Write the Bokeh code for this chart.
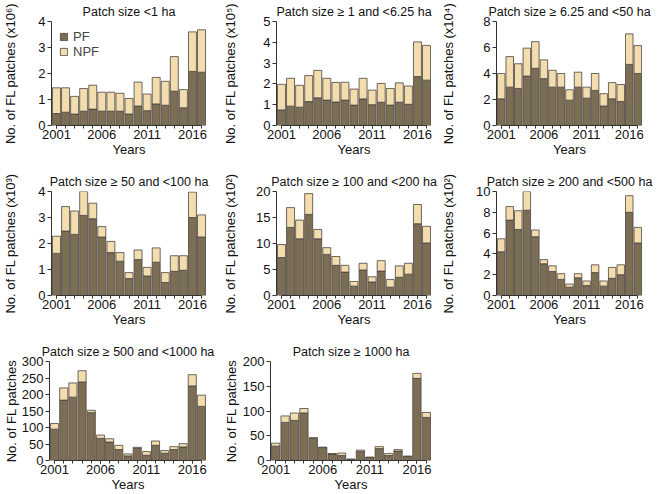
from bokeh.plotting import figure
from bokeh.layouts import column, row
from bokeh.models import FixedTicker, Range1d, ColumnDataSource, Legend, LegendItem
from bokeh.embed import file_html
from bokeh.resources import INLINE

years = list(range(2001, 2018))
year_labels = [2001, 2006, 2011, 2016]

# Panel 1: < 1 ha (x10^6)
pf_1 = [0.46, 0.51, 0.44, 0.55, 0.63, 0.55, 0.55, 0.55, 0.44, 0.75, 0.57, 0.83, 0.78, 1.32, 0.68, 2.08, 2.05]
npf_1 = [0.99, 0.94, 0.68, 0.87, 0.92, 0.73, 0.73, 0.69, 0.60, 0.92, 0.64, 1.02, 0.92, 1.33, 0.70, 1.52, 1.63]
# Panel 2: >=1 and <6.25 ha (x10^5)
pf_2 = [0.75, 0.93, 0.88, 1.15, 1.33, 1.22, 1.13, 1.22, 0.98, 1.28, 1.00, 1.12, 0.98, 1.12, 1.02, 2.35, 2.18]
npf_2 = [1.23, 1.34, 1.05, 1.25, 1.32, 1.05, 0.94, 0.86, 0.77, 0.99, 0.70, 0.90, 0.80, 0.93, 0.88, 1.67, 1.67]
# Panel 3: >=6.25 and <50 ha (x10^4)
pf_3 = [2.05, 2.95, 2.85, 3.80, 4.40, 3.60, 2.95, 2.95, 1.95, 2.95, 2.10, 2.70, 1.50, 2.05, 1.85, 4.70, 4.00]
npf_3 = [1.95, 2.35, 1.90, 2.15, 2.05, 1.45, 1.30, 1.05, 0.80, 1.15, 0.85, 1.30, 0.95, 1.25, 1.30, 2.35, 2.15]
# Panel 4: >=50 and <100 ha (x10^3)
pf_4 = [1.62, 2.48, 2.35, 3.08, 2.95, 2.25, 1.65, 1.32, 0.65, 1.38, 0.75, 1.28, 0.50, 0.93, 0.97, 3.00, 2.25]
npf_4 = [0.66, 0.94, 0.90, 0.92, 0.60, 0.40, 0.43, 0.33, 0.23, 0.37, 0.33, 0.55, 0.38, 0.60, 0.56, 0.98, 0.85]
# Panel 5: >=100 and <200 ha (x10^2)
pf_5 = [7.3, 13.1, 10.9, 15.6, 10.9, 7.9, 5.8, 4.5, 1.8, 4.9, 2.6, 4.7, 1.6, 3.5, 4.1, 13.8, 10.1]
npf_5 = [2.5, 3.8, 3.6, 4.0, 1.8, 1.3, 1.7, 1.3, 0.9, 1.3, 1.0, 2.0, 1.5, 2.2, 2.1, 3.7, 3.2]
# Panel 6: >=200 and <500 ha (x10^2)
pf_6 = [4.20, 7.25, 6.35, 8.20, 5.65, 3.05, 2.30, 1.55, 0.80, 1.70, 0.95, 2.20, 0.90, 1.65, 2.00, 8.00, 5.05]
npf_6 = [1.25, 1.30, 1.80, 1.80, 0.65, 0.40, 0.55, 0.55, 0.30, 0.40, 0.45, 0.75, 0.50, 1.05, 0.95, 1.60, 1.50]
# Panel 7: >=500 and <1000 ha
pf_7 = [95, 183, 192, 238, 145, 67, 56, 33, 14, 37, 16, 46, 22, 33, 41, 226, 164]
npf_7 = [17, 37, 43, 34, 7, 10, 10, 13, 6, 3, 11, 13, 8, 9, 10, 34, 34]
# Panel 8: >=1000 ha
pf_8 = [29, 77, 81, 96, 45, 26, 13, 10, 2, 18, 6, 24, 10, 19, 8, 166, 87]
npf_8 = [6, 13, 15, 9, 1, 1, 1, 5, 1, 3, 1, 4, 4, 3, 1, 10, 10]

titles = [
    "Patch size <1 ha",
    "Patch size \u2265 1 and <6.25 ha",
    "Patch size \u2265 6.25 and <50 ha",
    "Patch size \u2265 50 and <100 ha",
    "Patch size \u2265 100 and <200 ha",
    "Patch size \u2265 200 and <500 ha",
    "Patch size \u2265 500 and <1000 ha",
    "Patch size \u2265 1000 ha",
]
ylabels = [
    "No. of FL patches (x10\u2076)",
    "No. of FL patches (x10\u2075)",
    "No. of FL patches (x10\u2074)",
    "No. of FL patches (x10\u00b3)",
    "No. of FL patches (x10\u00b2)",
    "No. of FL patches (x10\u00b2)",
    "No. of FL patches",
    "No. of FL patches",
]
yticks_all = [
    [0, 1, 2, 3, 4],
    [0, 1, 2, 3, 4, 5],
    [0, 2, 4, 6, 8],
    [0, 1, 2, 3, 4],
    [0, 5, 10, 15, 20],
    [0, 2, 4, 6, 8, 10],
    [0, 50, 100, 150, 200, 250, 300],
    [0, 50, 100, 150, 200],
]
series = [(pf_1, npf_1), (pf_2, npf_2), (pf_3, npf_3), (pf_4, npf_4),
          (pf_5, npf_5), (pf_6, npf_6), (pf_7, npf_7), (pf_8, npf_8)]

PF_COL = "#7c6d55"
NPF_COL = "#f3dcad"
EDGE = "#4a4540"
FONT = "Liberation Sans"
FS = 13
TFS = 12.5


def panel(i, width, height, bl, br, top, bottom, legend=False):
    pf, npf = series[i]
    yt = yticks_all[i]
    p = figure(width=width, height=height, output_backend="svg", toolbar_location=None,
               x_range=Range1d(2000.45, 2017.55), y_range=Range1d(0, yt[-1]),
               min_border_left=bl, min_border_right=br, min_border_top=top,
               min_border_bottom=bottom, title=titles[i])
    src = ColumnDataSource(dict(year=years, PF=pf, NPF=npf))
    rs = p.vbar_stack(["PF", "NPF"], x="year", width=0.88, source=src,
                      fill_color=[PF_COL, NPF_COL], line_color=EDGE, line_width=0.8)
    p.outline_line_color = None
    p.grid.visible = False
    p.background_fill_color = "white"
    p.border_fill_color = "white"
    t = p.title
    t.align = "center"
    t.text_font = FONT
    t.text_font_size = f"{TFS}px"
    t.text_font_style = "normal"
    t.text_color = "#111111"
    t.standoff = 5
    # x axis
    xa = p.xaxis[0]
    xa.ticker = FixedTicker(ticks=year_labels, minor_ticks=years)
    xa.bounds = (2001, 2017)
    xa.major_tick_out = 3
    xa.major_tick_in = 0
    xa.minor_tick_out = 3
    xa.minor_tick_in = 0
    xa.major_label_standoff = 1
    xa.axis_label = "Years"
    xa.axis_label_standoff = 0
    # y axis
    ya = p.yaxis[0]
    ya.ticker = FixedTicker(ticks=yt)
    ya.bounds = (0, yt[-1])
    ya.major_tick_out = 4
    ya.major_tick_in = 0
    ya.minor_tick_line_color = None
    ya.major_label_standoff = 2
    ya.axis_label = ylabels[i]
    tick_w = max(len(str(v)) for v in yt) * 0.556 * FS
    ya.axis_label_standoff = max(0, int(bl - (4 + 2 + tick_w + 16)))
    for ax in (xa, ya):
        ax.axis_line_color = "#333333"
        ax.major_tick_line_color = "#333333"
        ax.major_label_text_font = FONT
        ax.major_label_text_font_size = f"{FS}px"
        ax.major_label_text_color = "#111111"
        ax.axis_label_text_font = FONT
        ax.axis_label_text_font_size = f"{FS}px"
        ax.axis_label_text_font_style = "normal"
        ax.axis_label_text_color = "#111111"
    xa.minor_tick_line_color = "#333333"
    if legend:
        leg = Legend(items=[LegendItem(label="PF", renderers=[rs[0]]),
                            LegendItem(label="NPF", renderers=[rs[1]])],
                     location="top_left")
        leg.label_text_font = FONT
        leg.label_text_font_size = f"{FS}px"
        leg.glyph_width = 9
        leg.glyph_height = 9
        leg.label_height = 11
        leg.spacing = 0
        leg.padding = 2
        leg.margin = 6
        leg.background_fill_alpha = 0
        leg.border_line_alpha = 0
        p.add_layout(leg)
    return p


# rows 1 and 2: height 170 (top 21, frame 104, bottom 45); row 3: height 154
f1 = panel(0, 220, 170, 47, 14, 21, 45, legend=True)
f2 = panel(1, 218, 170, 52, 7, 21, 45)
f3 = panel(2, 220, 170, 54, 16, 21, 45)
f4 = panel(3, 220, 170, 47, 14, 21, 45)
f5 = panel(4, 218, 170, 52, 7, 21, 45)
f6 = panel(5, 220, 170, 54, 16, 21, 45)
f7 = panel(6, 220, 154, 44, 14, 20, 32)
f8 = panel(7, 218, 154, 45, 7, 20, 32)

layout = column(row(f1, f2, f3), row(f4, f5, f6), row(f7, f8))
open("out.html", "w").write(file_html(layout, INLINE))
